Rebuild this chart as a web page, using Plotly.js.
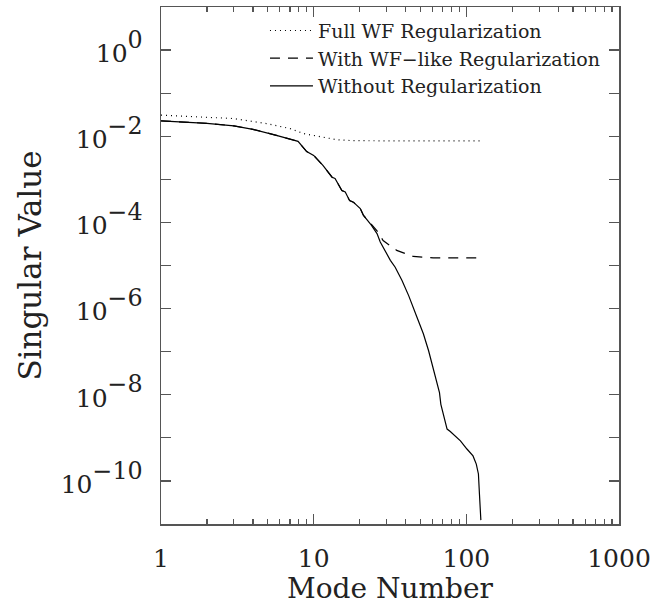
<!DOCTYPE html>
<html>
<head>
<meta charset="utf-8">
<script src="https://cdn.plot.ly/plotly-3.0.1.min.js"></script>
<style>
  html, body { margin: 0; padding: 0; background: #fff; }
  #chart { width: 655px; height: 605px; }
</style>
</head>
<body>
<div id="chart"></div>
<script>
// Mode numbers and singular values
const modesFull = [1, 3, 4.9, 7.0, 8.6, 11.6, 14.2, 18, 22.3, 40, 70, 122];
const valuesFull = [3.1e-2, 2.57e-2, 1.97e-2, 1.51e-2, 1.15e-2, 9.5e-3, 8.3e-3, 7.9e-3, 7.8e-3, 7.8e-3, 7.8e-3, 7.8e-3];

const modesWFlike = [1, 2, 3, 4, 5.7, 6.8, 7.9, 9.0, 10, 11.5, 13.2, 13.8, 15.3, 16.1, 17.2, 18.2, 20.2, 21.2, 23.5, 26.0, 28.5, 35, 44.9, 60.6, 122];
const valuesWFlike = [2.27e-2, 2.0e-2, 1.74e-2, 1.45e-2, 1.05e-2, 8.9e-3, 7.6e-3, 4.4e-3, 3.6e-3, 2.1e-3, 1.12e-3, 1.05e-3, 5.5e-4, 5.1e-4, 3.2e-4, 2.95e-4, 2.1e-4, 1.45e-4, 9.3e-5, 6.4e-5, 3.8e-5, 2.24e-5, 1.62e-5, 1.51e-5, 1.51e-5];

const modesNone = [1, 2, 3, 4, 5.7, 6.8, 7.9, 9.0, 10, 11.5, 13.2, 13.8, 15.3, 16.1, 17.2, 18.2, 20.2, 21.2, 23.5, 26.0, 27.3, 31.8, 34.2, 37.9, 41.9, 47.5, 52.3, 56.6, 59.2, 64.2, 66.7, 68.1, 71.6, 74.8, 78.5, 91.5, 100.9, 110.6, 116.2, 120, 121.9, 124.5];
const valuesNone = [2.27e-2, 2.0e-2, 1.74e-2, 1.45e-2, 1.05e-2, 8.9e-3, 7.6e-3, 4.4e-3, 3.6e-3, 2.1e-3, 1.12e-3, 1.05e-3, 5.5e-4, 5.1e-4, 3.2e-4, 2.95e-4, 2.1e-4, 1.45e-4, 9.3e-5, 5.5e-5, 3.5e-5, 1.32e-5, 9.1e-6, 4.5e-6, 2.0e-6, 6.3e-7, 2.6e-7, 1.05e-7, 5.6e-8, 2.1e-8, 1.12e-8, 6.0e-9, 3.0e-9, 1.6e-9, 1.4e-9, 8.5e-10, 5.5e-10, 3.8e-10, 2.45e-10, 1.45e-10, 4.9e-11, 1.23e-11];

const seriesNames = ["Full WF Regularization", "With WF\u2212like Regularization", "Without Regularization"];

const xTickVals = [1, 10, 100, 1000];
const xTickText = ["1", "10", "100", "1000"];
const yExponents = [0, -1, -2, -3, -4, -5, -6, -7, -8, -9, -10];

const FONT = "DejaVu Serif, Liberation Serif, serif";
const yTickVals = yExponents.map(e => Math.pow(10, e));
const yTickText = yExponents.map(e => (e % 2 === 0)
  ? "<span style='font-size:25px'>10</span><sup>" + (e < 0 ? "\u2212" + (-e) : e) + "</sup>"
  : " ");

const traces = [
  { x: modesFull, y: valuesFull, name: seriesNames[0], mode: "lines", legendgroup: "a",
    line: { color: "#000", width: 1.2, dash: "1px,4px" } },
  { x: modesWFlike, y: valuesWFlike, name: seriesNames[1], mode: "lines", legendgroup: "b",
    line: { color: "#000", width: 1.2, dash: "10px,8px" } },
  { x: modesNone, y: valuesNone, name: seriesNames[2], mode: "lines", legendgroup: "c",
    line: { color: "#000", width: 1.2 } }
];

const axisCommon = {
  showline: true, linecolor: "#555", linewidth: 1.5, mirror: "ticks",
  ticks: "inside", tickcolor: "#555", tickwidth: 1.2, ticklen: 10,
  showgrid: false, zeroline: false
};

const layout = {
  width: 655, height: 605,
  margin: { l: 161, r: 36, t: 7, b: 81 },
  paper_bgcolor: "#fff", plot_bgcolor: "#fff",
  showlegend: true,
  legend: {
    x: 0.227, y: 0.991, xanchor: "left", yanchor: "top",
    bgcolor: "rgba(0,0,0,0)", borderwidth: 0,
    font: { family: FONT, size: 19, color: "#222" },
    itemwidth: 43,
    tracegroupgap: 3, traceorder: "normal"
  },
  xaxis: Object.assign({}, axisCommon, {
    type: "log", range: [0, 3],
    tickvals: xTickVals, ticktext: xTickText,
    tickfont: { family: FONT, size: 25, color: "#222" },
    ticklabelstandoff: 11,
    minor: { ticks: "inside", ticklen: 5, tickcolor: "#555", tickwidth: 1.2, dtick: "D1", showgrid: false },
    title: { text: "Mode Number", font: { family: FONT, size: 28, color: "#222" }, standoff: 22 }
  }),
  yaxis: Object.assign({}, axisCommon, {
    type: "log", range: [-11, 1],
    tickvals: yTickVals, ticktext: yTickText,
    tickfont: { family: FONT, size: 34, color: "#222" },
    ticklabelstandoff: 10,
    title: { text: "Singular Value", font: { family: FONT, size: 31, color: "#222" }, standoff: 10 }
  })
};

Plotly.newPlot("chart", traces, layout, { displayModeBar: false, staticPlot: true });
</script>
</body>
</html>
